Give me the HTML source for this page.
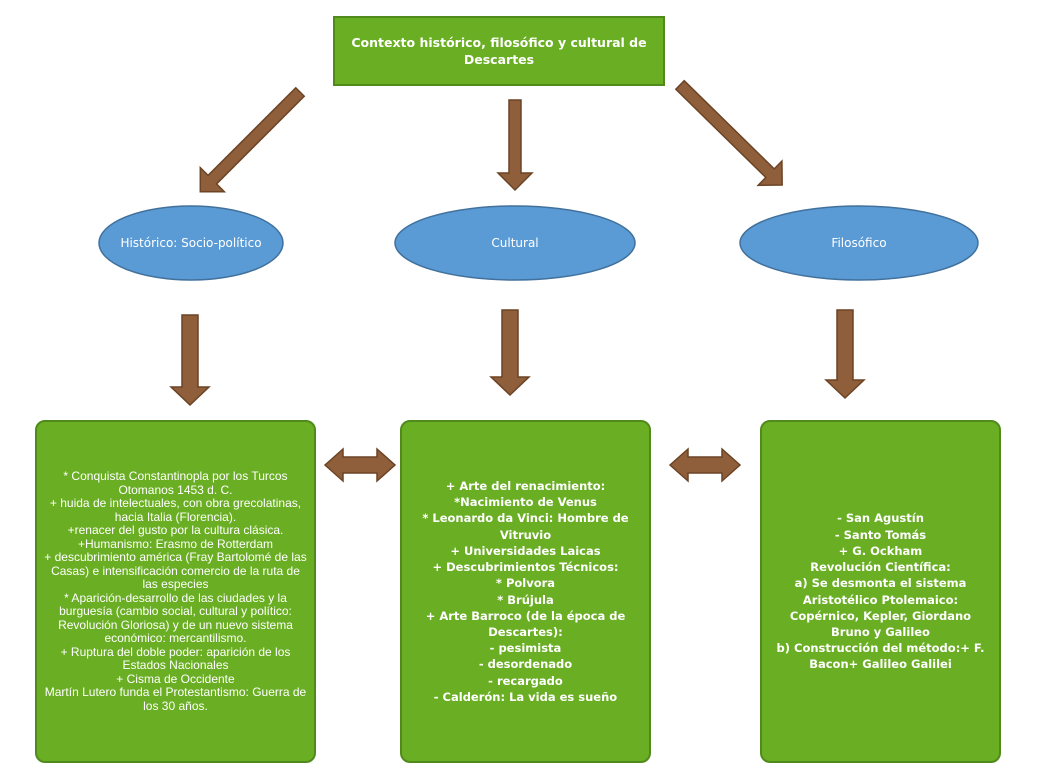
<!DOCTYPE html>
<html><head><meta charset="utf-8"><style>
body{margin:0;width:1060px;height:780px;background:#fff;position:relative;overflow:hidden}
.box{position:absolute;background:#6aaf23;border:2px solid #4f8a1b;box-sizing:border-box;color:#fff;display:flex;align-items:center;justify-content:center;text-align:center}
.r{border-radius:10px}
.v{font-family:"DejaVu Sans",sans-serif;font-size:11.5px;line-height:16.2px;font-weight:600}
.a{font-family:"Liberation Sans",sans-serif;font-size:12px;line-height:13.5px}
.el{position:absolute;color:#fff;font-family:"DejaVu Sans",sans-serif;font-size:12px;display:flex;align-items:center;justify-content:center}
svg{position:absolute;left:0;top:0}
</style></head><body>
<svg width="1060" height="780">
<defs>
<polygon id="ar" points="0,-6 -17,-6 -17,6 0,6 0,17 17,0 0,-17 0,-6" />
</defs>
<g fill="#8f5e3a" stroke="#6b4426" stroke-width="1.5">
<!-- arrows: shaft from origin to L-17; head tip at L -->
<polygon points="0,-6 124,-6 124,-17 141,0 124,17 124,6 0,6" transform="translate(300,92) rotate(135)"/>
<polygon points="0,-6 73,-6 73,-17 90,0 73,17 73,6 0,6" transform="translate(515,100) rotate(90)"/>
<polygon points="0,-6 126,-6 126,-17 143,0 126,17 126,6 0,6" transform="translate(680,85) rotate(44.4)"/>
<polygon points="0,-8 72,-8 72,-19 90,0 72,19 72,8 0,8" transform="translate(190,315) rotate(90)"/>
<polygon points="0,-8 67,-8 67,-19 85,0 67,19 67,8 0,8" transform="translate(510,310) rotate(90)"/>
<polygon points="0,-8 70,-8 70,-19 88,0 70,19 70,8 0,8" transform="translate(845,310) rotate(90)"/>
<polygon points="325,465 343,449 343,457 377,457 377,449 395,465 377,481 377,473 343,473 343,481"/>
<polygon points="670,465 688,449 688,457 722,457 722,449 740,465 722,481 722,473 688,473 688,481"/>
</g>
<g fill="#5b9bd5" stroke="#41719c" stroke-width="1.5">
<ellipse cx="191" cy="243" rx="92" ry="37"/>
<ellipse cx="515" cy="243" rx="120" ry="37"/>
<ellipse cx="859" cy="243" rx="119" ry="37"/>
</g>
</svg>
<div class="box v" style="left:333px;top:16px;width:332px;height:70px;font-weight:bold;font-size:12.5px;line-height:17px">Contexto histórico, filosófico y cultural de<br>Descartes</div>
<div class="el" style="left:99px;top:206px;width:184px;height:74px">Histórico:&nbsp;Socio-político</div>
<div class="el" style="left:395px;top:206px;width:240px;height:74px">Cultural</div>
<div class="el" style="left:740px;top:206px;width:238px;height:74px">Filosófico</div>
<div class="box r a" style="left:35px;top:420px;width:281px;height:343px;padding:0 4px">
<div>* Conquista Constantinopla por los Turcos<br>Otomanos 1453 d. C.<br>+ huida de intelectuales, con obra grecolatinas,<br>hacia Italia (Florencia).<br>+renacer del gusto por la cultura clásica.<br>+Humanismo: Erasmo de Rotterdam<br>+ descubrimiento américa (Fray Bartolomé de las<br>Casas) e intensificación comercio de la ruta de<br>las especies<br>* Aparición-desarrollo de las ciudades y la<br>burguesía (cambio social, cultural y político:<br>Revolución Gloriosa) y de un nuevo sistema<br>económico: mercantilismo.<br>+ Ruptura del doble poder: aparición de los<br>Estados Nacionales<br>+ Cisma de Occidente<br>Martín Lutero funda el Protestantismo: Guerra de<br>los 30 años.</div></div>
<div class="box r v" style="left:400px;top:420px;width:251px;height:343px">
<div>+ Arte del renacimiento:<br>*Nacimiento de Venus<br>* Leonardo da Vinci: Hombre de<br>Vitruvio<br>+ Universidades Laicas<br>+ Descubrimientos Técnicos:<br>* Polvora<br>* Brújula<br>+ Arte Barroco (de la época de<br>Descartes):<br>- pesimista<br>- desordenado<br>- recargado<br>- Calderón: La vida es sueño</div></div>
<div class="box r v" style="left:760px;top:420px;width:241px;height:343px">
<div>- San Agustín<br>- Santo Tomás<br>+ G. Ockham<br>Revolución Científica:<br>a) Se desmonta el sistema<br>Aristotélico Ptolemaico:<br>Copérnico, Kepler, Giordano<br>Bruno y Galileo<br>b) Construcción del método:+ F.<br>Bacon+ Galileo Galilei</div></div>
</body></html>
